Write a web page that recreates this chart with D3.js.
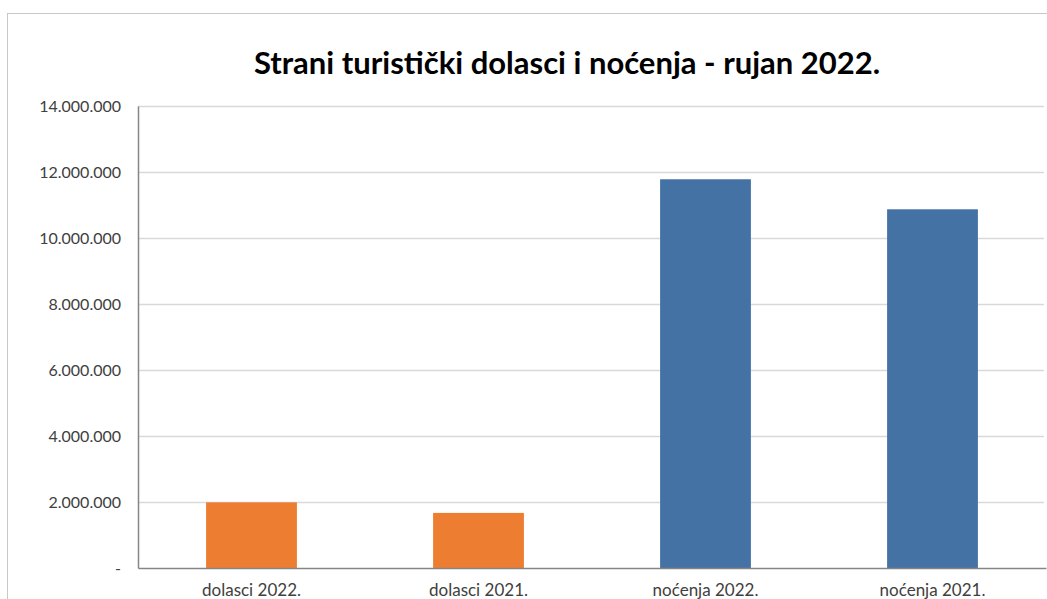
<!DOCTYPE html>
<meta charset="utf-8">
<title>Strani turistički dolasci i noćenja</title>
<script src="https://d3js.org/d3.v7.min.js"></script>
<style>
  body { margin: 0; background: #fff; }
  text { font-family: Lato, "Open Sans", sans-serif; }
</style>
<div id="chart"></div>
<script>
  const categories = ["dolasci 2022.", "dolasci 2021.", "noćenja 2022.", "noćenja 2021."];
  const values = [1990000, 1670000, 11780000, 10870000];
  const barColors = ["#ed7d31", "#ed7d31", "#4472a4", "#4472a4"];
  const yTicks = [0, 2000000, 4000000, 6000000, 8000000, 10000000, 12000000, 14000000];

  const W = 1047, H = 599;
  const margin = { top: 106, right: 1, bottom: 31, left: 138 };
  const width = W - margin.left - margin.right,
    height = H - margin.top - margin.bottom;

  const root = d3.select("#chart").append("svg")
    .attr("width", W)
    .attr("height", H);

  // outer chart border (right and bottom are off-screen)
  root.append("rect")
    .attr("x", 7.5).attr("y", 13.5)
    .attr("width", 1200).attr("height", 700)
    .attr("fill", "none")
    .attr("stroke", "#c8c8c8");

  root.append("text")
    .attr("x", 567).attr("y", 74)
    .attr("text-anchor", "middle")
    .style("font-size", "31px")
    .style("font-weight", "bold")
    .style("fill", "#000")
    .text("Strani turistički dolasci i noćenja - rujan 2022.");

  const svg = root.append("g")
    .attr("transform", `translate(${margin.left},${margin.top})`);

  const x = d3.scaleBand()
    .domain(categories)
    .range([0, width])
    .paddingInner(0.6)
    .paddingOuter(0.3);

  const y = d3.scaleLinear()
    .domain([0, 14000000])
    .range([height, 0]);

  const fmt = d => d === 0 ? "-" : d3.format(",")(d).replace(/,/g, ".");

  // gridlines
  svg.append("g")
    .selectAll("line")
    .data(yTicks.filter(d => d > 0))
    .join("line")
    .attr("x1", 0).attr("x2", width - 2)
    .attr("y1", d => Math.round(y(d)) + 0.5)
    .attr("y2", d => Math.round(y(d)) + 0.5)
    .attr("stroke", "#d9d9d9")
    .attr("stroke-width", 1.5);

  const yAxis = svg.append("g")
    .call(d3.axisLeft(y).tickValues(yTicks).tickFormat(fmt).tickSize(0).tickPadding(17));
  yAxis.select(".domain").attr("stroke", "#868686").attr("stroke-width", 1.5);
  yAxis.selectAll("text")
    .style("font-size", "16px")
    .style("fill", "#404040")
    .style("font-family", "Lato, sans-serif");

  svg.selectAll("rect.bar")
    .data(values)
    .join("rect")
    .attr("class", "bar")
    .attr("x", (d, i) => x(categories[i]))
    .attr("y", d => y(d))
    .attr("width", x.bandwidth())
    .attr("height", d => height - y(d))
    .attr("fill", (d, i) => barColors[i]);

  const xAxis = svg.append("g")
    .attr("transform", `translate(0,${height})`)
    .call(d3.axisBottom(x).tickSize(0).tickPadding(16));
  xAxis.select(".domain").attr("stroke", "#868686").attr("stroke-width", 1.5);
  xAxis.selectAll("text")
    .style("font-size", "17px")
    .style("fill", "#404040")
    .style("font-family", "Lato, sans-serif");
</script>
